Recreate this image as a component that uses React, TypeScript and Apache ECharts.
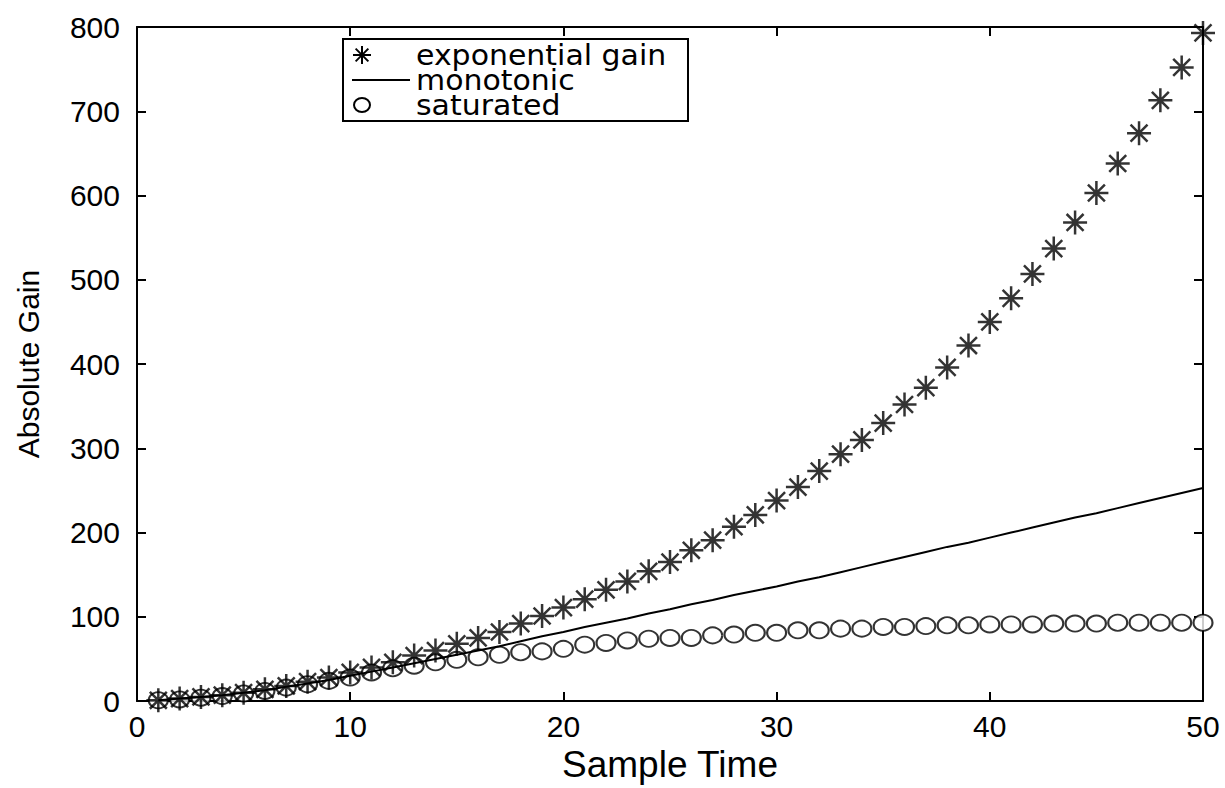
import React, { useEffect, useRef } from "react";
import * as echarts from "echarts";

const sampleTimes = [
  1, 2, 3, 4, 5, 6, 7, 8, 9, 10, 11, 12, 13, 14, 15, 16, 17, 18, 19, 20, 21, 22, 23, 24, 25,
  26, 27, 28, 29, 30, 31, 32, 33, 34, 35, 36, 37, 38, 39, 40, 41, 42, 43, 44, 45, 46, 47, 48, 49, 50,
];

const exponentialGain = [
  1, 3, 5, 7, 10, 14, 18, 23, 28, 34, 40, 46, 54, 60, 68, 75, 82, 92, 101, 111, 121, 132, 142, 154, 165,
  179, 191, 207, 221, 238, 254, 273, 293, 310, 330, 352, 372, 396, 422, 450, 478, 507, 537, 568, 603, 638, 674, 713, 752, 793,
];

const monotonic = [
  1, 3, 5, 7, 10, 13, 17, 21, 25, 30, 35, 40, 45, 50, 55, 60, 65, 71, 77, 82, 88, 93, 98, 104, 109,
  115, 120, 126, 131, 136, 142, 147, 153, 159, 165, 171, 177, 183, 188, 194, 200, 206, 212, 218, 223, 229, 235, 241, 247, 253,
];

const saturated = [
  1, 2, 4, 6, 9, 12, 16, 20, 24, 28, 34, 39, 42, 46, 49, 52, 55, 58, 59, 62, 67, 69, 72, 74, 75,
  75, 78, 79, 81, 81, 84, 84, 86, 86, 88, 88, 89, 90, 90, 91, 91, 91, 92, 92, 92, 93, 93, 93, 93, 93,
];

const xTicks = { min: 0, max: 50, interval: 10 };
const yTicks = { min: 0, max: 800, interval: 100 };
const legendNames = ["exponential gain", "monotonic", "saturated"];

const STAR = "path://M10,0L10,20M0,10L20,10M2.93,2.93L17.07,17.07M2.93,17.07L17.07,2.93";
const FONT = "Liberation Sans, Arial, sans-serif";

export default function App() {
  const ref = useRef<HTMLDivElement>(null);
  useEffect(() => {
    if (!ref.current) return;
    const chart = echarts.init(ref.current, null, { renderer: "svg" });
    const pair = (arr: number[]) => sampleTimes.map((t, i) => [t, arr[i]]);
    const axisLine = { show: true, onZero: false, lineStyle: { color: "#000", width: 2 } };
    const axisTick = { show: true, inside: true, length: 9, lineStyle: { color: "#000", width: 2 } };
    const lx = 343, ly = 39, lw = 345, lh = 82;
    const rows = [55, 80, 105];
    const sx = 362;
    const sr = 9;
    const d = sr * 0.707;
    const ln = (x1: number, y1: number, x2: number, y2: number) => ({
      type: "line", z: 12, shape: { x1, y1, x2, y2 }, style: { stroke: "#000", lineWidth: 2 },
    });
    chart.setOption({
      animation: false,
      backgroundColor: "#fff",
      grid: { left: 137, right: 22, top: 27, bottom: 82, containLabel: false },
      xAxis: [
        {
          type: "value", position: "bottom", ...xTicks,
          axisLine, axisTick, splitLine: { show: false },
          axisLabel: { color: "#000", fontSize: 30, fontFamily: FONT, margin: 10 },
          name: "Sample Time", nameLocation: "middle", nameGap: 36,
          nameTextStyle: { color: "#000", fontSize: 37, fontFamily: FONT },
        },
        {
          type: "value", position: "top", ...xTicks,
          axisLine, axisTick, splitLine: { show: false }, axisLabel: { show: false },
        },
      ],
      yAxis: [
        {
          type: "value", position: "left", ...yTicks,
          axisLine, axisTick, splitLine: { show: false },
          axisLabel: { color: "#000", fontSize: 30, fontFamily: FONT, margin: 17 },
          name: "Absolute Gain", nameLocation: "middle", nameGap: 94, nameRotate: 90,
          nameTextStyle: { color: "#000", fontSize: 30, fontFamily: FONT },
        },
        {
          type: "value", position: "right", ...yTicks,
          axisLine, axisTick, splitLine: { show: false }, axisLabel: { show: false },
        },
      ],
      series: [
        {
          name: legendNames[2], type: "scatter", data: pair(saturated),
          symbol: "emptyCircle", symbolSize: [19, 16],
          itemStyle: { color: "#000", borderColor: "#000", borderWidth: 2 },
          z: 2,
        },
        {
          name: legendNames[1], type: "line", data: pair(monotonic),
          showSymbol: false, symbol: "none",
          lineStyle: { color: "#000", width: 2 }, z: 3,
        },
        {
          name: legendNames[0], type: "scatter", data: pair(exponentialGain),
          symbol: STAR, symbolSize: 24,
          itemStyle: { color: "#000", borderColor: "#000", borderWidth: 2.5 },
          z: 4,
        },
      ],
      graphic: [
        {
          type: "rect", z: 10, shape: { x: lx, y: ly, width: lw, height: lh },
          style: { fill: "#fff", stroke: "#000", lineWidth: 2 },
        },
        ln(sx - sr, rows[0], sx + sr, rows[0]),
        ln(sx, rows[0] - sr, sx, rows[0] + sr),
        ln(sx - d, rows[0] - d, sx + d, rows[0] + d),
        ln(sx - d, rows[0] + d, sx + d, rows[0] - d),
        ln(352, rows[1], 410, rows[1]),
        {
          type: "ellipse", z: 12, shape: { cx: sx, cy: rows[2], rx: 8, ry: 7 },
          style: { fill: "#fff", stroke: "#000", lineWidth: 2 },
        },
        ...legendNames.map((n, i) => ({
          type: "text", z: 12, x: 416, y: rows[i], scaleX: 1.07,
          style: {
            text: n, fill: "#000", fontSize: 28, fontFamily: "DejaVu Sans, sans-serif",
            verticalAlign: "middle", align: "left",
          },
        })),
      ],
    });
    return () => chart.dispose();
  }, []);
  return (
    <div
      ref={ref}
      style={{ position: "fixed", left: 0, top: 0, width: 1225, height: 788, background: "#fff" }}
    />
  );
}
